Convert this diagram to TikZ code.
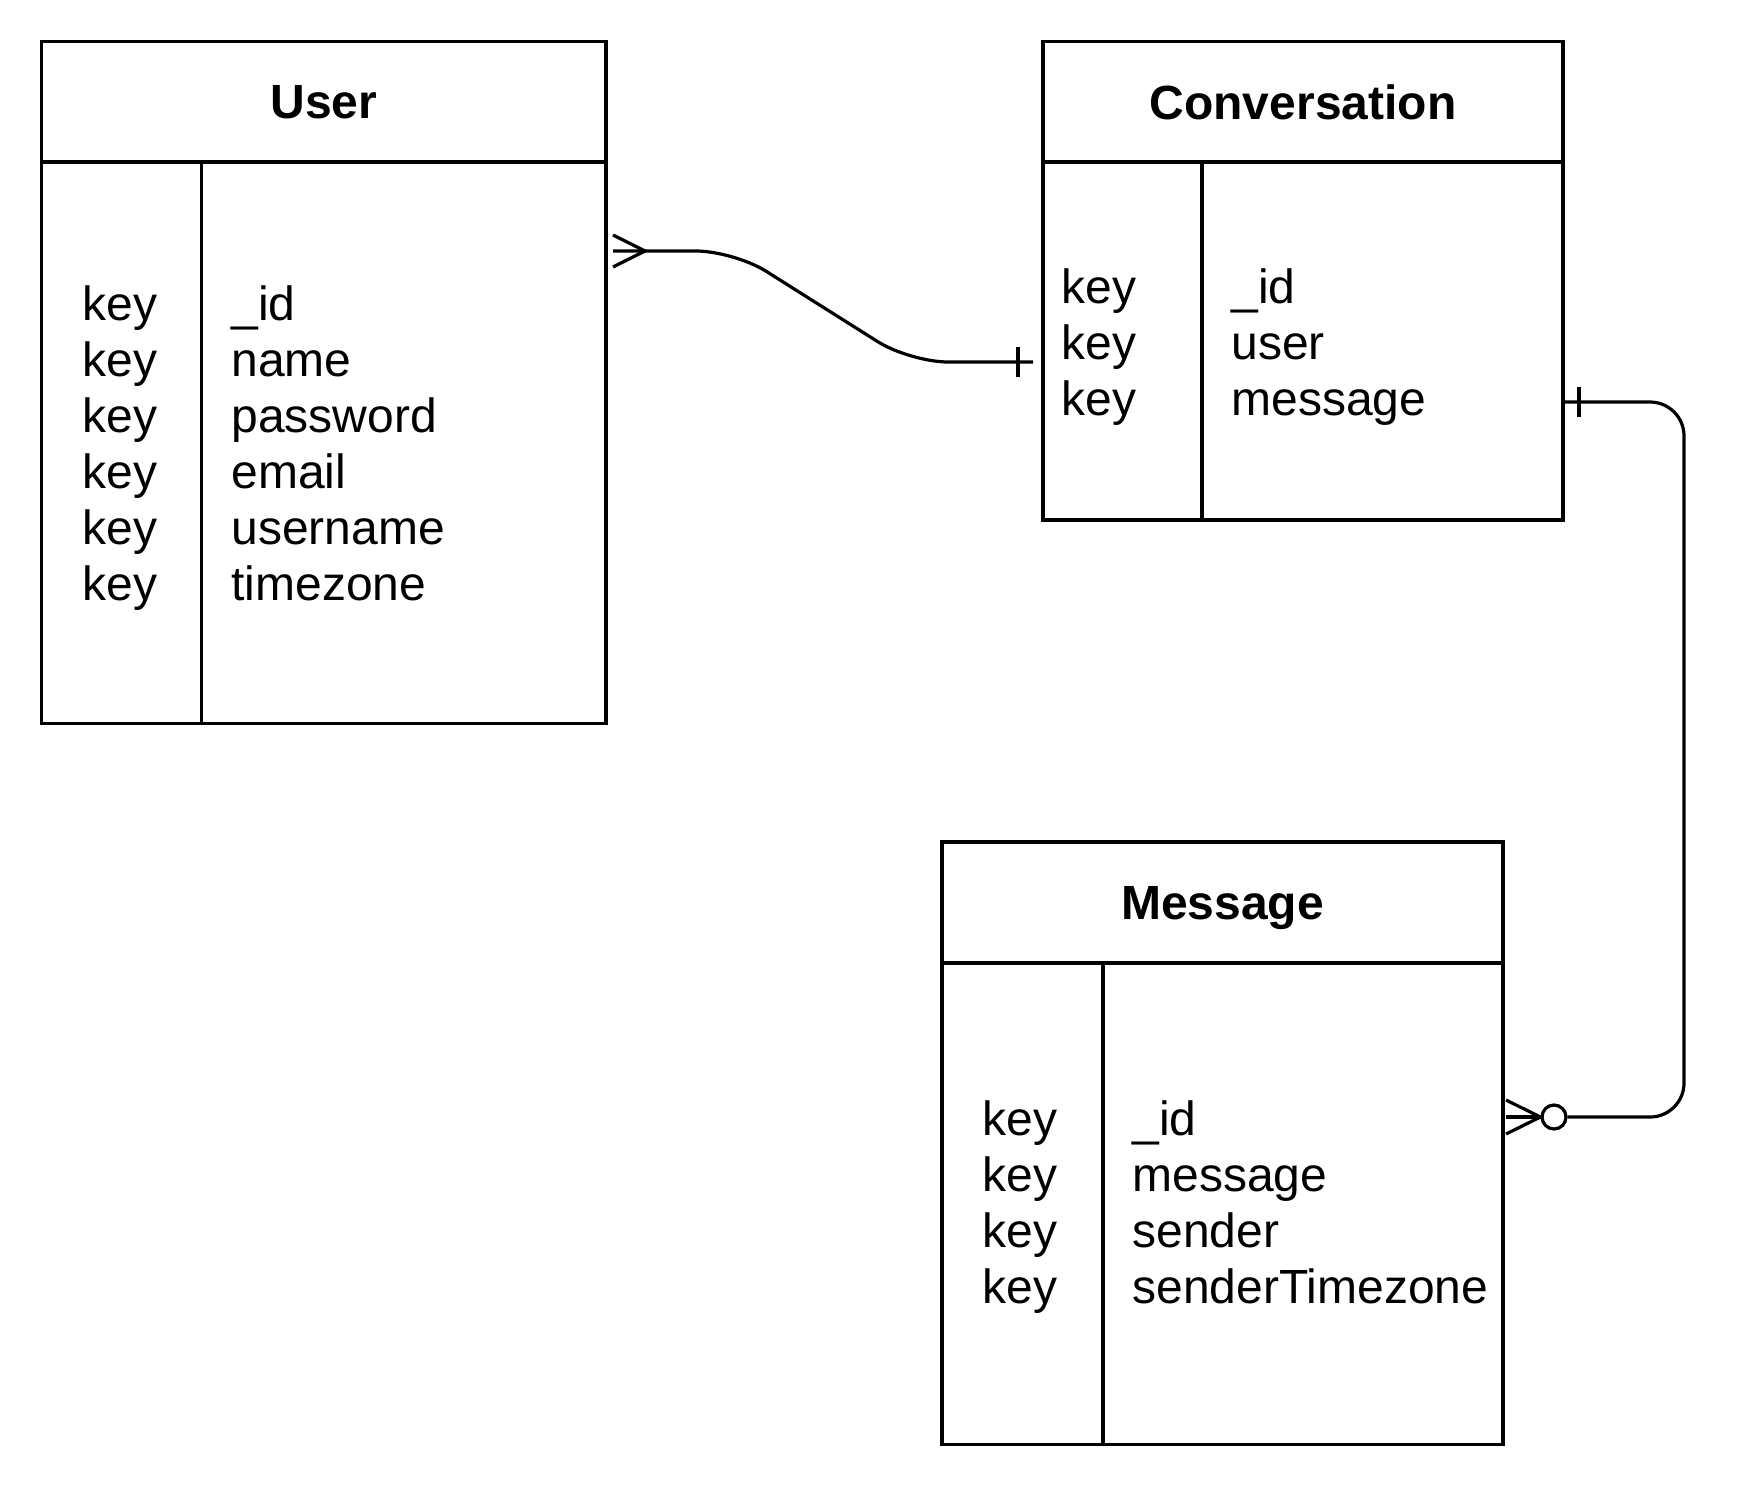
\documentclass[tikz,border=0pt]{standalone}
\usepackage{fontspec}
\setmainfont{Liberation Sans}
\usetikzlibrary{positioning}

\tikzset{
  entity/.style={draw, line width=1.75pt, inner sep=0pt, outer sep=0pt, text depth=0pt},
  head/.style={entity, font=\fontsize{24}{28}\selectfont\bfseries},
  row/.style={anchor=base west, inner sep=0pt},
  conn/.style={line width=1.6pt},
}

\begin{document}
\begin{tikzpicture}[x=0.5pt, y=-0.5pt, font=\fontsize{24}{28}\selectfont]
    \useasboundingbox (0,0) rectangle (1760,1484);

    % User
    \node[head, anchor=north west, minimum width=282.15pt, minimum height=60.15pt] (userhead) at (41.7,41.7) {User};
    \node[entity, below=0pt of userhead, minimum width=282.15pt, minimum height=280.7pt] (userbody) {};
    \draw[line width=1.75pt] ([xshift=80pt]userbody.north west) -- ([xshift=80pt]userbody.south west);
    \foreach \f [count=\i] in {\_id, name, password, email, username, timezone} {
        \node[row] (ukey\i) at (82, 264+56*\i) {key};
        \node[row] (ufield\i) at (231, 264+56*\i) {\f};
    }

    % Conversation
    \node[head, anchor=north west, minimum width=260pt, minimum height=60.25pt] (convhead) at (1043,41.7) {Conversation};
    \node[entity, below=0pt of convhead, minimum width=260pt, minimum height=179pt] (convbody) {};
    \draw[line width=1.75pt] ([xshift=79.5pt]convbody.north west) -- ([xshift=79.5pt]convbody.south west);
    \foreach \f [count=\i] in {\_id, user, message} {
        \node[row] (ckey\i) at (1061, 247+56*\i) {key};
        \node[row] (cfield\i) at (1231, 247+56*\i) {\f};
    }

    % Message
    \node[head, anchor=north west, minimum width=280.5pt, minimum height=60.5pt] (msghead) at (942,842) {Message};
    \node[entity, below=0pt of msghead, minimum width=280.5pt, minimum height=240.75pt] (msgbody) {};
    \draw[line width=1.75pt] ([xshift=80.5pt]msgbody.north west) -- ([xshift=80.5pt]msgbody.south west);
    \foreach \f [count=\i] in {\_id, message, sender, senderTimezone} {
        \node[row] (mkey\i) at (982, 1079+56*\i) {key};
        \node[row] (mfield\i) at (1132, 1079+56*\i) {\f};
    }

    % User -- Conversation
    \coordinate (uend) at (userbody.east |- 0,251);
    \coordinate (cend) at (convbody.west |- 0,362);
    \draw[conn, rounded corners=19pt] ([xshift=3.5pt]uend) -- (734,251) -- (910,362) -- ([xshift=-5pt]cend);
    \draw[conn] ([shift={(7,-16)}]uend) -- ([shift={(39,0)}]uend) -- ([shift={(7,16)}]uend);
    \draw[conn] ([shift={(-25,-15)}]cend) -- ([shift={(-25,15)}]cend);

    % Conversation -- Message
    \coordinate (cstart) at (convbody.east |- 0,402);
    \coordinate (mend) at (msgbody.east |- 0,1117);
    \node[conn, draw, circle, inner sep=0pt, minimum size=12pt] (mcirc) at ([xshift=25.5pt]mend) {};
    \draw[conn, rounded corners=17pt] (cstart) -- (1684,402) -- (1684,1117) -- (mcirc.east);
    \draw[conn] ([shift={(16,-15)}]cstart) -- ([shift={(16,15)}]cstart);
    \draw[conn] ([shift={(3,-17)}]mend) -- (mcirc.west) -- ([shift={(3,17)}]mend);
    \draw[conn] ([xshift=1.5pt]mend) -- (mcirc.west);
\end{tikzpicture}
\end{document}
